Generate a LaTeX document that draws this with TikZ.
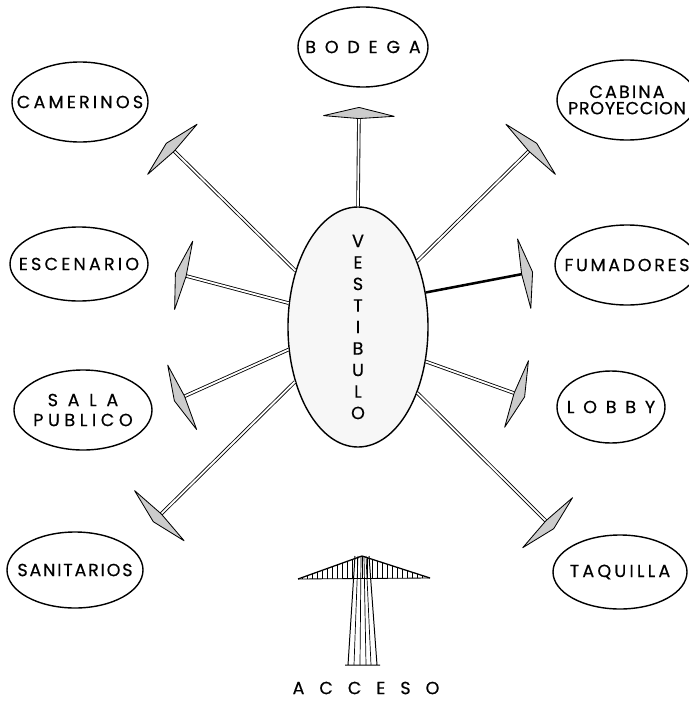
\documentclass[tikz,border=0pt]{standalone}
\usepackage{fontspec}
\setmainfont{Poppins}[FakeBold=0.4]
\usetikzlibrary{shapes.geometric, arrows.meta}
\newcommand{\tracked}[2]{{\addfontfeatures{LetterSpace=#1}#2}}

\begin{document}
\begin{tikzpicture}[x=0.25mm, y=-0.25mm,
  room/.style={ellipse, draw=black, line width=1pt, inner sep=0pt},
  every label/.style={font=\fontsize{12.5}{14}\selectfont, align=center, inner sep=0pt},
  link/.style={draw=black, line width=0.6pt, double=white, double distance=1.3pt,
    -{Kite[length=3mm, width=19mm, inset=0.7mm, round, fill=black!20, line width=0.6pt]}},
  solidlink/.style={draw=black, line width=1.8pt,
    -{Kite[length=3mm, width=19mm, inset=0.7mm, round, fill=black!20, line width=0.6pt]}}
]
\useasboundingbox (0,0) rectangle (688,702);

\node (vest) [room, fill=black!3, minimum width=35mm, minimum height=60mm,
  label={[font=\fontsize{12.5}{15.3}\selectfont]center:V\\E\\S\\T\\I\\B\\U\\L\\O}] at (358,327) {};

\node (bodega) [room, minimum width=32.5mm, minimum height=20mm, label={center:\tracked{50}{BODEGA}}] at (363,47) {};
\node (camerinos) [room, minimum width=34mm, minimum height=20mm, label={center:\tracked{18}{CAMERINOS}}] at (80,102) {};
\node (cabina) [room, minimum width=35mm, minimum height=20mm,
  label={[font=\fontsize{12.5}{11.6}\selectfont]center:\tracked{12}{CABINA}\\\tracked{4}{PROYECCION}}] at (627,100) {};
\node (escenario) [room, minimum width=34.5mm, minimum height=18.5mm, label={center:\tracked{18}{ESCENARIO}}] at (79,264) {};
\node (fumadores) [room, minimum width=36mm, minimum height=20mm, label={center:\tracked{15}{FUMADORES}}] at (627,265) {};
\node (sala) [room, minimum width=34.5mm, minimum height=20mm,
  label={[font=\fontsize{12.5}{14.2}\selectfont]center:\tracked{55}{SALA}\\\tracked{26}{PUBLICO}}] at (83,410) {};
\node (lobby) [room, minimum width=27mm, minimum height=18mm, label={center:\tracked{50}{LOBBY}}] at (611,407) {};
\node (sanitarios) [room, minimum width=34mm, minimum height=19mm, label={center:\tracked{10}{SANITARIOS}}] at (75,570) {};
\node (taquilla) [room, minimum width=33.5mm, minimum height=18.5mm, label={center:\tracked{18}{TAQUILLA}}] at (620,572) {};

% arrow tips
\coordinate (bodegatip) at (359,107);
\coordinate (camerinostip) at (166,143);
\coordinate (cabinatip) at (537,143);
\coordinate (escenariotip) at (175,273);
\coordinate (fumadorestip) at (533,272);
\coordinate (salatip) at (174,401);
\coordinate (lobbytip) at (525,397);
\coordinate (sanitariostip) at (153,522);
\coordinate (taquillatip) at (554,529);

\draw [link] (vest.90) -- (bodegatip);
\draw [link] (vest.138) -- (camerinostip);
\draw [link] (vest.48) -- (cabinatip);
\draw [link] (vest.161) -- (escenariotip);
\draw [solidlink] (vest.27) -- (fumadorestip);
\draw [link] (vest.198) -- (salatip);
\draw [link] (vest.333) -- (lobbytip);
\draw [link] (vest.221) -- (sanitariostip);
\draw [link] (vest.312) -- (taquillatip);

% access arrow
\draw [line width=0.9pt] (298,579) -- (362,556) -- (430,578);
\draw [line width=0.6pt] (298,579) -- (430,578);
\begin{scope}
  \clip (298,579) -- (362,556) -- (430,578) -- cycle;
  \foreach \x in {302,307,...,428} \draw [line width=0.6pt] (\x,550) -- (\x,580);
\end{scope}
\draw [line width=0.7pt] (355,556) -- (348,665) (369,556) -- (377,665) (345,665) -- (380,665);
\foreach \a/\b in {358/354, 361/360, 364/366, 366/371} \draw [line width=0.5pt] (\a,556) -- (\b,665);

\node (acceso) [font=\fontsize{12.5}{14}\selectfont] at (366,688) {\tracked{85}{ACCESO}};

\end{tikzpicture}
\end{document}
